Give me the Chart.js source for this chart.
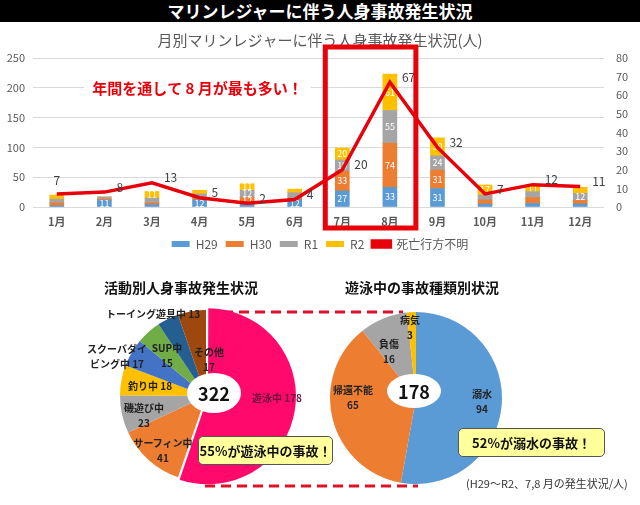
<!DOCTYPE html>
<html lang="ja">
<head>
<meta charset="utf-8">
<script src="https://cdn.jsdelivr.net/npm/chart.js@4.4.1/dist/chart.umd.min.js"></script>
<style>
  body { margin: 0; width: 640px; height: 505px; background: #fff; position: relative; overflow: hidden;
         font-family: "Noto Sans CJK JP", sans-serif; }
  .abs { position: absolute; }
  #header { left: 0; top: 0; width: 640px; height: 22px; background: #000; color: #fff; font-weight: bold;
            font-size: 17px; line-height: 22px; text-align: center; }
  #barWrap { left: 0; top: 22px; width: 640px; height: 244px; }
  #pieLeftWrap { left: 116px; top: 306px; width: 180px; height: 180px; }
  #pieRightWrap { left: 330px; top: 312px; width: 172px; height: 172px; }
  .ptitle { font-weight: bold; font-size: 14px; color: #111; white-space: nowrap; }
  .plabel { font-weight: bold; font-size: 10px; line-height: 15px; color: #222; text-align: center;
            white-space: nowrap; transform: translate(-50%, -50%); }
  .callout { background: #ffff9c; border: 1px solid #555; border-radius: 5px; font-weight: bold; font-size: 13px;
             color: #111; text-align: center; box-sizing: border-box; }
  #note { left: 466px; top: 475px; font-size: 11px; color: #333; white-space: nowrap; }
</style>
</head>
<body>
<div id="header" class="abs">マリンレジャーに伴う人身事故発生状況</div>
<div id="barWrap" class="abs"><canvas id="barChart"></canvas></div>

<svg class="abs" style="left:0;top:0" width="640" height="505">
  <line x1="223" y1="312" x2="403" y2="312" stroke="#e0102a" stroke-width="3" stroke-dasharray="10 6"/>
  <line x1="205" y1="486" x2="418" y2="486" stroke="#e0102a" stroke-width="3" stroke-dasharray="10 6"/>
</svg>

<div class="abs ptitle" style="left:104px;top:277px">活動別人身事故発生状況</div>
<div class="abs ptitle" style="left:345px;top:277px">遊泳中の事故種類別状況</div>
<div id="pieLeftWrap" class="abs"><canvas id="pieLeft"></canvas></div>
<div id="pieRightWrap" class="abs"><canvas id="pieRight"></canvas></div>
<div id="labels"></div>

<div class="abs callout" style="left:198px;top:436px;width:135px;height:29px;line-height:27px">55%が遊泳中の事故！</div>
<div class="abs callout" style="left:458px;top:428px;width:147px;height:29px;line-height:27px">52%が溺水の事故！</div>
<div id="note" class="abs">(H29～R2、7,8 月の発生状況/人)</div>

<script>
const months = ["1月", "2月", "3月", "4月", "5月", "6月", "7月", "8月", "9月", "10月", "11月", "12月"];
const h29 = [2, 11, 4, 12, 4, 12, 27, 33, 31, 5, 6, 5];
const h30 = [5, 2, 3, 4, 12, 3, 33, 74, 31, 7, 10, 6];
const r1 = [6, 4, 8, 6, 12, 9, 19, 55, 24, 8, 10, 12];
const r2 = [7, 0, 11, 6, 11, 6, 20, 61, 30, 17, 11, 10];
const deaths = [7, 8, 13, 5, 2, 4, 20, 67, 32, 7, 12, 11];

const activityNames = ["遊泳中", "サーフィン中", "磯遊び中", "釣り中", "スクーバダイ\nビング中", "SUP中", "トーイング遊具中", "その他"];
const activityCounts = [178, 41, 23, 18, 17, 15, 13, 17];
const swimNames = ["溺水", "帰還不能", "負傷", "病気"];
const swimCounts = [94, 65, 16, 3];

// label placement (page px), separator between name and number
const activityLabelPos = [[277, 397, " "], [163, 450, "\n"], [144, 415, "\n"], [150, 385, " "], [117, 356, " "], [167, 355, "\n"], [153, 313, " "], [209, 359, "\n"]];
const swimLabelPos = [[482, 401, "\n"], [353, 397, "\n"], [389, 351, "\n"], [410, 327, "\n"]];

const grey = "#595959";
const font = "'Noto Sans CJK JP', sans-serif";

const segmentLabels = {
  id: "segmentLabels",
  afterDatasetDraw(chart, args) {
    const ds = chart.data.datasets[args.index];
    if (ds.type === "line") return;
    const ctx = chart.ctx;
    ctx.save();
    ctx.fillStyle = "#fff";
    ctx.font = "9px " + font;
    ctx.textAlign = "center";
    ctx.textBaseline = "middle";
    args.meta.data.forEach((bar, j) => {
      if (Math.abs(bar.base - bar.y) < 6) return;
      ctx.fillText(ds.data[j], bar.x, (bar.y + bar.base) / 2);
    });
    ctx.restore();
  },
  afterDatasetsDraw(chart) {
    const ctx = chart.ctx;
    const idx = chart.data.datasets.findIndex((d) => d.type === "line");
    const meta = chart.getDatasetMeta(idx);
    ctx.save();
    ctx.fillStyle = "#404040";
    ctx.font = "12px " + font;
    ctx.textBaseline = "middle";
    meta.data.forEach((pt, j) => {
      if (j === 0) {
        ctx.textAlign = "center";
        ctx.fillText(deaths[j], pt.x, pt.y - 14);
      } else {
        ctx.textAlign = "left";
        ctx.fillText(deaths[j], pt.x + 12, pt.y - 5);
      }
    });
    ctx.restore();
  },
  afterDraw(chart) {
    const ctx = chart.ctx;
    const x = chart.scales.x;
    const y = chart.scales.y;
    const area = chart.chartArea;
    ctx.save();
    // highlight box around Jul-Aug
    ctx.strokeStyle = "#e8000b";
    ctx.lineWidth = 5;
    const l = x.getPixelForValue(6) - 17;
    const r = x.getPixelForValue(7) + 26;
    ctx.strokeRect(l, area.top - 11, r - l, area.bottom - area.top + 32);
    // annotation text
    ctx.font = "bold 15px " + font;
    ctx.textAlign = "center";
    ctx.textBaseline = "middle";
    const text = "年間を通して 8 月が最も多い！";
    const w = ctx.measureText(text).width;
    const tx = x.getPixelForValue(3) - 2;
    const ty = y.getPixelForValue(200);
    ctx.fillStyle = "#fff";
    ctx.fillRect(tx - w / 2 - 8, ty - 9, w + 16, 18);
    ctx.fillStyle = "#e8000b";
    ctx.fillText(text, tx, ty);
    ctx.restore();
  },
};

new Chart(document.getElementById("barChart"), {
  type: "bar",
  data: {
    labels: months,
    datasets: [
      { label: "H29", data: h29, backgroundColor: "#5b9bd5", order: 1 },
      { label: "H30", data: h30, backgroundColor: "#ed7d31", order: 1 },
      { label: "R1", data: r1, backgroundColor: "#a5a5a5", order: 1 },
      { label: "R2", data: r2, backgroundColor: "#ffc000", order: 1 },
      {
        type: "line",
        label: "死亡行方不明",
        data: deaths,
        yAxisID: "y1",
        borderColor: "#e8000b",
        backgroundColor: "#e8000b",
        borderWidth: 3.5,
        pointRadius: 0,
        order: 0,
      },
    ],
  },
  options: {
    responsive: true,
    maintainAspectRatio: false,
    animation: false,
    datasets: { bar: { barThickness: 14 } },
    layout: { padding: { left: 0, right: 0, bottom: 6 } },
    plugins: {
      title: {
        display: true,
        text: "月別マリンレジャーに伴う人身事故発生状況(人)",
        color: grey,
        font: { size: 15, family: font, weight: "normal" },
        padding: { top: 9, bottom: 9 },
      },
      legend: {
        position: "bottom",
        labels: {
          color: grey,
          font: { size: 12, family: font },
          boxWidth: 18,
          boxHeight: 6,
          padding: 8,
          sort: (a, b) => a.datasetIndex - b.datasetIndex,
        },
      },
      tooltip: { enabled: false },
    },
    scales: {
      x: {
        stacked: true,
        grid: { display: false, drawTicks: false },
        border: { display: false },
        ticks: { color: grey, font: { size: 11, family: font, weight: "bold" }, padding: 8 },
        afterFit: (s) => { s.height = 23; },
      },
      y: {
        stacked: true,
        min: 0,
        max: 250,
        ticks: { stepSize: 50, color: grey, font: { size: 11, family: font }, padding: 8 },
        grid: { color: "#d9d9d9", drawTicks: false },
        border: { display: false },
        afterFit: (s) => { s.width = 33; },
      },
      y1: {
        position: "right",
        min: 0,
        max: 80,
        ticks: { stepSize: 10, color: grey, font: { size: 11, family: font }, padding: 12 },
        grid: { display: false, drawTicks: false },
        border: { display: false },
        afterFit: (s) => { s.width = 36; },
      },
    },
  },
  plugins: [segmentLabels],
});

function centerEllipse(text, dx, dy, rx, ry) {
  return {
    id: "centerEllipse",
    afterDraw(chart) {
      const arc = chart.getDatasetMeta(0).data[1];
      const ctx = chart.ctx;
      const cx = arc.x + dx;
      const cy = arc.y + dy;
      ctx.save();
      ctx.fillStyle = "#fff";
      ctx.beginPath();
      ctx.ellipse(cx, cy, rx, ry, 0, 0, Math.PI * 2);
      ctx.fill();
      ctx.fillStyle = "#111";
      ctx.font = "bold 18px " + font;
      ctx.textAlign = "center";
      ctx.textBaseline = "middle";
      ctx.fillText(text, cx, cy + 1);
      ctx.restore();
    },
  };
}

const sum = (a) => a.reduce((s, v) => s + v, 0);

new Chart(document.getElementById("pieLeft"), {
  type: "pie",
  data: {
    labels: activityNames,
    datasets: [{
      data: activityCounts,
      backgroundColor: ["#ff0a6c", "#ed7d31", "#a5a5a5", "#ffc000", "#4472c4", "#70ad47", "#255e91", "#9e480e"],
      borderWidth: 0,
      offset: [8, 0, 0, 0, 0, 0, 0, 0],
    }],
  },
  options: {
    responsive: true,
    maintainAspectRatio: false,
    animation: false,
    plugins: { legend: { display: false }, tooltip: { enabled: false } },
  },
  plugins: [centerEllipse(String(sum(activityCounts)), 8, -3, 27, 20)],
});

new Chart(document.getElementById("pieRight"), {
  type: "pie",
  data: {
    labels: swimNames,
    datasets: [{
      data: swimCounts,
      backgroundColor: ["#5b9bd5", "#ed7d31", "#a5a5a5", "#ffc000"],
      borderWidth: 0,
    }],
  },
  options: {
    responsive: true,
    maintainAspectRatio: false,
    animation: false,
    plugins: { legend: { display: false }, tooltip: { enabled: false } },
  },
  plugins: [centerEllipse(String(sum(swimCounts)), -2, -7, 27, 17)],
});

function addLabels(names, counts, pos, color) {
  const box = document.getElementById("labels");
  names.forEach((n, i) => {
    const d = document.createElement("div");
    d.className = "abs plabel";
    d.style.left = pos[i][0] + "px";
    d.style.top = pos[i][1] + "px";
    if (color[i]) d.style.color = color[i];
    d.innerHTML = (n + pos[i][2] + counts[i]).replace(/\n/g, "<br>");
    box.appendChild(d);
  });
}
addLabels(activityNames, activityCounts, activityLabelPos, ["#6b0f3a"]);
addLabels(swimNames, swimCounts, swimLabelPos, []);
</script>
</body>
</html>
